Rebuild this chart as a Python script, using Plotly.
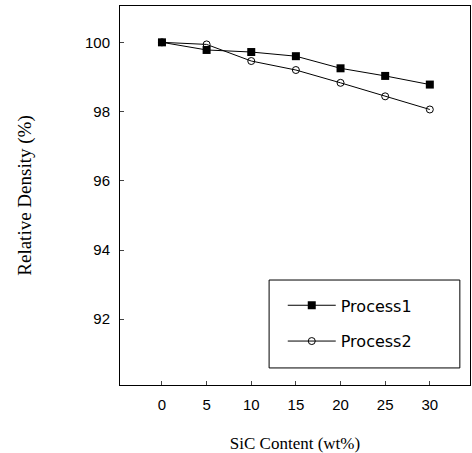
import plotly.graph_objects as go

sic = [0, 5, 10, 15, 20, 25, 30]
process1 = [100.0, 99.78, 99.72, 99.6, 99.25, 99.03, 98.78]
process2 = [100.0, 99.94, 99.46, 99.2, 98.83, 98.44, 98.06]
x_ticks = [0, 5, 10, 15, 20, 25, 30]
y_ticks = [92, 94, 96, 98, 100]

fig = go.Figure()
fig.add_trace(go.Scatter(x=sic, y=process1, name="Process1", mode="lines+markers",
                         legendgroup="a",
                         line=dict(color="black", width=1),
                         marker=dict(symbol="square", size=8, color="black")))
fig.add_trace(go.Scatter(x=sic, y=process2, name="Process2", mode="lines+markers",
                         legendgroup="b",
                         line=dict(color="black", width=1),
                         marker=dict(symbol="circle-open", size=7, color="black", line=dict(width=1))))

fig.update_layout(
    width=472, height=453,
    margin=dict(l=120, r=2, t=6, b=68),
    paper_bgcolor="white", plot_bgcolor="white",
    font=dict(family="Liberation Sans", color="black", size=13),
    legend=dict(x=0.465, y=0.255, xanchor="left", yanchor="top",
                borderwidth=0, bgcolor="rgba(0,0,0,0)",
                font=dict(family="DejaVu Sans", size=16),
                itemwidth=48, tracegroupgap=12),
    showlegend=True,
    shapes=[dict(type="rect", xref="paper", yref="paper",
                 x0=0.426, x1=0.971, y0=0.045, y1=0.277,
                 line=dict(color="black", width=1))],
)
fig.update_xaxes(range=[-4.7, 34.5], tickvals=x_ticks, ticks="inside", ticklen=4,
                 showline=True, linecolor="black", linewidth=1, mirror=True,
                 showgrid=False, zeroline=False, automargin=False,
                 tickfont=dict(size=15), ticklabelstandoff=6,
                 title=dict(text="SiC Content (wt%)", font=dict(family="Liberation Serif", size=17), standoff=28))
fig.update_yaxes(range=[90.1, 101.05], tickvals=y_ticks, ticks="inside", ticklen=4,
                 showline=True, linecolor="black", linewidth=1, mirror=True,
                 showgrid=False, zeroline=False, automargin=False,
                 tickfont=dict(size=15), ticklabelstandoff=6,
                 title=dict(text="Relative Density (%)", font=dict(family="Liberation Serif", size=19), standoff=48))

fig.write_html("out.html", config={"displayModeBar": False},
               post_script="document.body.style.margin='0';")
